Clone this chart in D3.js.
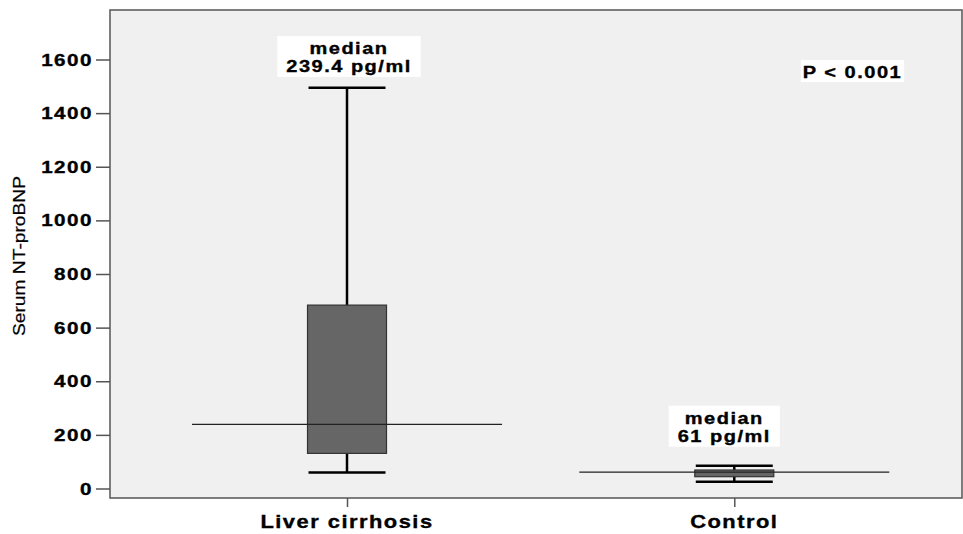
<!DOCTYPE html>
<html>
<head>
<meta charset="utf-8">
<script src="https://cdn.jsdelivr.net/npm/d3@7"></script>
<style>
  body { margin: 0; background: #fff; }
  svg { display: block; }
</style>
</head>
<body>
<script>
// box plot values (pg/ml)
const categories = ["Liver cirrhosis", "Control"];
const whiskerLow = [60, 25];
const q1 = [131, 44];
const medians = [239.4, 61];
const q3 = [684, 69];
const whiskerHigh = [1495, 85];
const yTicks = [0, 200, 400, 600, 800, 1000, 1200, 1400, 1600];
const medianLabels = [["median", "239.4 pg/ml"], ["median", "61 pg/ml"]];
const pLabel = "P < 0.001";
const yTitle = "Serum NT-proBNP";

const width = 963, height = 534;
const frame = { left: 110, right: 962, top: 10, bottom: 498 };
const SX = 1.25; // the reference text is drawn wide

const svg = d3.select("body").append("svg")
  .attr("width", width)
  .attr("height", height);

const x = d3.scalePoint()
  .domain(categories)
  .range([frame.left, frame.right])
  .padding(0.6)
  .align(0.51);

const y = d3.scaleLinear()
  .domain([0, 1600])
  .range([488.5, 59.5]);

// plot background + frame
svg.append("rect")
  .attr("x", frame.left)
  .attr("y", frame.top)
  .attr("width", frame.right - frame.left)
  .attr("height", frame.bottom - frame.top)
  .attr("fill", "#f0f0f0")
  .attr("stroke", "#555")
  .attr("stroke-width", 1.5);

function wideText(parent, px, py, str, size, anchor, weight) {
  return parent.append("text")
    .attr("transform", `translate(${px},${py}) scale(${SX},1)`)
    .attr("text-anchor", anchor)
    .style("font-family", "'Liberation Sans', Arial, sans-serif")
    .style("font-weight", weight || "bold")
    .style("font-size", `${size}px`)
    .style("letter-spacing", "1.2px")
    .attr("fill", "#000")
    .attr("stroke", "#000")
    .attr("stroke-width", 0.35)
    .text(str);
}

// y axis
let yAxis = svg.append("g")
  .attr("transform", `translate(${frame.left},0)`)
  .call(d3.axisLeft(y).tickValues(yTicks).tickSize(14).tickFormat(""));
yAxis.select(".domain").remove();
yAxis.selectAll(".tick line").attr("stroke", "#555").attr("stroke-width", 1.5);
yTicks.forEach(t => {
  wideText(svg, 93, y(t) + 6, d3.format("d")(t), 16.5, "end");
});

svg.append("text")
  .attr("transform", `translate(25,${(frame.top + frame.bottom) / 2 + 2}) rotate(-90) scale(1.13,1)`)
  .attr("text-anchor", "middle")
  .style("font-family", "'Liberation Sans', Arial, sans-serif")
  .style("font-size", "17px")
  .attr("fill", "#000")
  .attr("stroke", "#000")
  .attr("stroke-width", 0.2)
  .text(yTitle);

// x axis
let xAxis = svg.append("g")
  .attr("transform", `translate(0,${frame.bottom})`)
  .call(d3.axisBottom(x).tickSize(9).tickFormat(""));
xAxis.select(".domain").remove();
xAxis.selectAll(".tick line").attr("stroke", "#555").attr("stroke-width", 1.5);
categories.forEach(c => {
  wideText(svg, x(c), 528, c, 17.5, "middle");
});

// boxes
const boxW = 79, medW = 310;
categories.forEach((c, i) => {
  let cx = x(c);
  let g = svg.append("g");
  g.append("line")
    .attr("x1", cx).attr("x2", cx)
    .attr("y1", y(whiskerLow[i])).attr("y2", y(whiskerHigh[i]))
    .attr("stroke", "#000").attr("stroke-width", 2.5);
  [whiskerLow[i], whiskerHigh[i]].forEach(v => {
    g.append("line")
      .attr("x1", cx - boxW / 2 + 1).attr("x2", cx + boxW / 2 - 1)
      .attr("y1", y(v)).attr("y2", y(v))
      .attr("stroke", "#000").attr("stroke-width", 2.5);
  });
  g.append("rect")
    .attr("x", cx - boxW / 2)
    .attr("width", boxW)
    .attr("y", y(q3[i]))
    .attr("height", y(q1[i]) - y(q3[i]))
    .attr("fill", "#666")
    .attr("stroke", "#333")
    .attr("stroke-width", 1.2);
  g.append("line")
    .attr("x1", cx - medW / 2).attr("x2", cx + medW / 2)
    .attr("y1", y(medians[i])).attr("y2", y(medians[i]))
    .attr("stroke", "#222").attr("stroke-width", 1.2);
});

// median annotations with white background
const labelAnchor = [{ dx: 2, v: 1535 }, { dx: -10, v: 156 }];
medianLabels.forEach((lines, i) => {
  let cx = x(categories[i]) + labelAnchor[i].dx;
  let bottom = y(labelAnchor[i].v);
  let g = svg.append("g");
  let bg = g.append("rect").attr("fill", "#fff");
  let t1 = wideText(g, cx, bottom - 22.5, lines[0], 16, "middle");
  let t2 = wideText(g, cx, bottom - 4.5, lines[1], 16, "middle");
  let w = Math.max(t1.node().getBBox().width, t2.node().getBBox().width) * SX;
  bg.attr("x", cx - w / 2 - 9).attr("width", w + 18)
    .attr("y", bottom - 41).attr("height", 41);
});

// p value
{
  let g = svg.append("g");
  let bg = g.append("rect").attr("fill", "#fff");
  let cx = 852.5, cy = y(1557);
  let t = wideText(g, cx, cy + 6.5, pLabel, 16, "middle");
  let w = t.node().getBBox().width * SX;
  bg.attr("x", cx - w / 2 - 2).attr("width", w + 4)
    .attr("y", cy - 11).attr("height", 22);
}
</script>
</body>
</html>
